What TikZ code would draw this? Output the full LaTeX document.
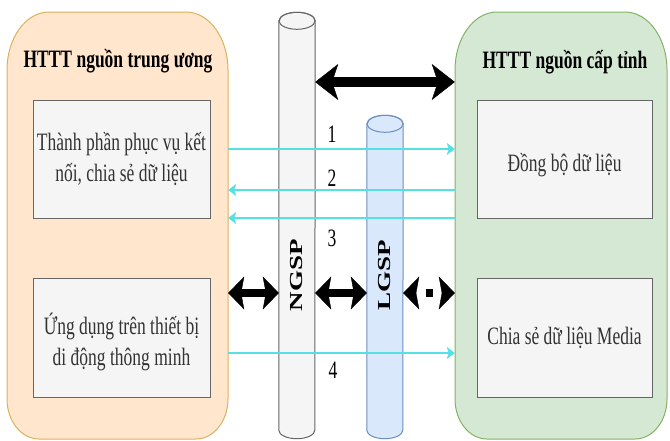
\documentclass[tikz,border=0pt]{standalone}
\usepackage{fontspec}
\setmainfont{Liberation Serif}[FakeStretch=0.70]
\newfontfamily\pipefont{Liberation Serif}
\usetikzlibrary{arrows.meta}

\definecolor{srcfill}{HTML}{FFE6CC}
\definecolor{srcline}{HTML}{DDB060}
\definecolor{provfill}{HTML}{D5E8D4}
\definecolor{provline}{HTML}{82B366}
\definecolor{cardfill}{HTML}{F5F5F5}
\definecolor{cardline}{HTML}{666666}
\definecolor{cardtext}{HTML}{333333}
\definecolor{lgspfill}{HTML}{DAE8FC}
\definecolor{lgspline}{HTML}{6C8EBF}
\definecolor{flow}{HTML}{55E0E6}

\tikzset{
  bigtip/.tip={Stealth[length=23pt,width=36pt,inset=6pt,line width=0.4pt]},
  midtip/.tip={Stealth[length=16pt,width=33pt,inset=3pt,line width=0.4pt]},
  flowtip/.tip={Stealth[length=8pt,width=12pt,inset=2pt,line width=0.4pt]},
}
% lower a text line inside its box without changing the box size
\newcommand\dropline[2]{\raisebox{-#1}[\height][\depth]{#2}}

\begin{document}
\begin{tikzpicture}[x=1pt, y=-1pt,
  frame/.style={inner sep=0pt},
  card/.style={draw=cardline, fill=cardfill, line width=1pt, inner sep=0pt,
    text=cardtext, align=center, font=\fontsize{25}{31}\selectfont},
  heading/.style={font=\bfseries\fontsize{25}{30}\selectfont, anchor=base, inner sep=0pt},
  flownum/.style={font=\fontsize{25}{30}\selectfont, anchor=base, inner sep=0pt},
  pipe/.style={inner sep=0pt, minimum width=36},
  pipelabel/.style={rotate=90, inner sep=0pt, font=\pipefont\bfseries\fontsize{27}{30}\selectfont},
  biglink/.style={line width=10pt, bigtip-bigtip},
  midlink/.style={line width=8pt, midtip-midtip},
  flowlink/.style={draw=flow, line width=1.8pt},
]
\useasboundingbox (0,0) rectangle (670,440);

% outer frames (invisible anchors + elliptical-corner outlines)
\node[frame, minimum width=221, minimum height=427] (central) at (117.5,225.5) {};
\node[frame, minimum width=212, minimum height=427] (provincial) at (561,225.5) {};

\draw[draw=srcline, fill=srcfill, line width=1pt]
  (49,12) -- (186,12) arc[start angle=-90, end angle=0, x radius=42, y radius=58]
  -- (228,399) arc[start angle=0, end angle=90, x radius=32, y radius=40]
  -- (39,439) arc[start angle=90, end angle=180, x radius=32, y radius=40]
  -- (7,70) arc[start angle=180, end angle=270, x radius=42, y radius=58] -- cycle;

\draw[draw=provline, fill=provfill, line width=1pt]
  (497,12) -- (625,12) arc[start angle=-90, end angle=0, x radius=42, y radius=58]
  -- (667,399) arc[start angle=0, end angle=90, x radius=32, y radius=40]
  -- (487,439) arc[start angle=90, end angle=180, x radius=32, y radius=40]
  -- (455,70) arc[start angle=180, end angle=270, x radius=42, y radius=58] -- cycle;

% headings
\node[heading] (centraltitle) at (118,67) {HTTT nguồn trung ương};
\node[heading] (provtitle) at (565,68) {HTTT nguồn cấp tỉnh};

% inner components
\node[card, minimum width=177, minimum height=118] (svc) at (121.5,159)
  {Thành phần phục vụ kết\\nối, chia sẻ dữ liệu};
\node[card, minimum width=177, minimum height=119] (mobile) at (121.5,337.5)
  {\dropline{4pt}{Ứng dụng trên thiết bị}\\\dropline{4pt}{di động thông minh}};
\node[card, minimum width=175, minimum height=118] (sync) at (564.5,159)
  {\dropline{6pt}{Đồng bộ dữ liệu}};
\node[card, minimum width=175, minimum height=119] (media) at (564.5,337.5)
  {Chia sẻ dữ liệu Media};

% NGSP cylinder
\node[pipe, minimum height=409] (ngsp) at (297,225.5) {};
\draw[draw=cardline, fill=cardfill, line width=1pt]
  (ngsp.north west) -- (ngsp.south west)
  arc[start angle=180, end angle=0, x radius=18, y radius=8.5]
  -- (ngsp.north east)
  arc[start angle=0, end angle=-180, x radius=18, y radius=8.5] -- cycle;
\draw[draw=cardline, line width=1pt] (ngsp.north) ellipse[x radius=18, y radius=8.5];
\node[pipelabel] (ngsplabel) at (297,275) {\scalebox{1}[0.68]{NGSP}};

% LGSP cylinder
\node[pipe, minimum height=306] (lgsp) at (385,277) {};
\draw[draw=lgspline, fill=lgspfill, line width=1pt]
  (lgsp.north west) -- (lgsp.south west)
  arc[start angle=180, end angle=0, x radius=18, y radius=8.5]
  -- (lgsp.north east)
  arc[start angle=0, end angle=-180, x radius=18, y radius=8.5] -- cycle;
\draw[draw=lgspline, line width=1pt] (lgsp.north) ellipse[x radius=18, y radius=8.5];
\node[pipelabel] (lgsplabel) at (385,275) {\scalebox{1}[0.68]{LGSP}};

% bold links
\draw[biglink] (ngsp.east |- 0,82) -- (provincial.west |- 0,82);
\draw[midlink] (central.east |- 0,293) -- (ngsp.west |- 0,293);
\draw[midlink] (ngsp.east |- 0,293) -- (lgsp.west |- 0,293);
\draw[midlink, dash pattern=on 0pt off 9.5pt on 7pt off 40pt]
  (lgsp.east |- 0,293) -- (provincial.west |- 0,293);

% data flows
\draw[flowlink, -flowtip] (central.east |- 0,149) -- (provincial.west |- 0,149);
\draw[flowlink, flowtip-] (central.east |- 0,190) -- (provincial.west |- 0,190);
\draw[flowlink, flowtip-] (central.east |- 0,218) -- (provincial.west |- 0,218);
\draw[flowlink, -flowtip] (central.east |- 0,353) -- (provincial.west |- 0,353);

\node[flownum] (n1) at (332,142) {1};
\node[flownum] (n2) at (332,186) {2};
\node[flownum] (n3) at (332,246) {3};
\node[flownum] (n4) at (333,378) {4};
\end{tikzpicture}
\end{document}
